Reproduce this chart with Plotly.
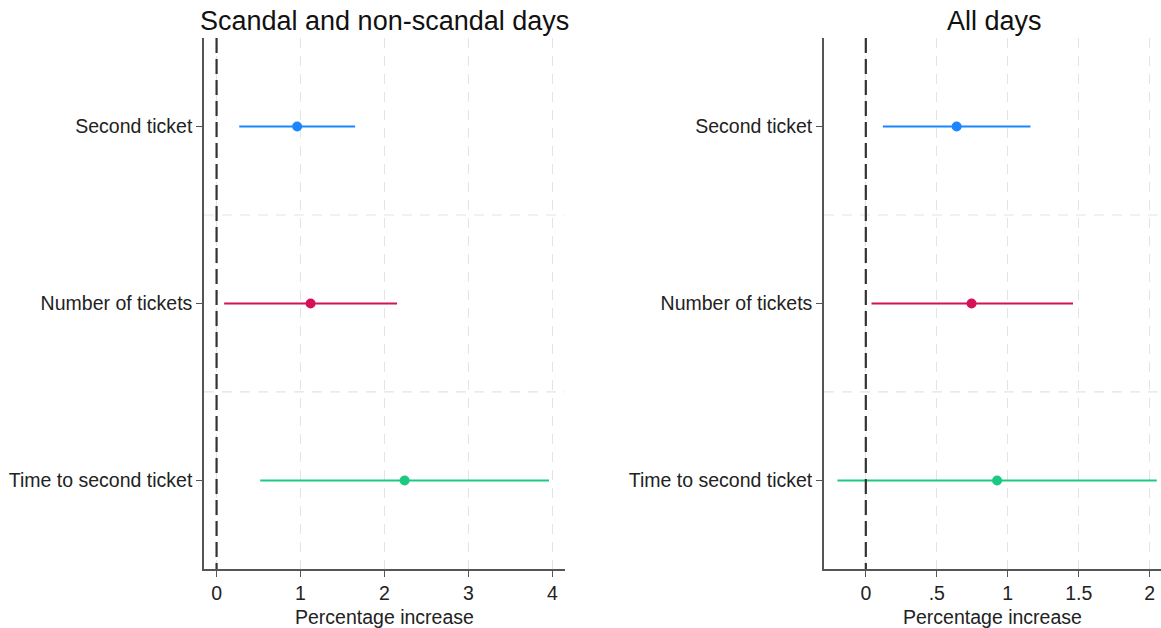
import plotly.graph_objects as go

# Outcomes and estimates (percentage increase with 95% CI)
outcomes = ["Second ticket", "Number of tickets", "Time to second ticket"]
colors = ["#1A85FF", "#D41159", "#1BC982"]

scandal_est = [0.96, 1.12, 2.24]
scandal_lo = [0.27, 0.09, 0.52]
scandal_hi = [1.65, 2.15, 3.96]

all_est = [0.64, 0.745, 0.925]
all_lo = [0.12, 0.04, -0.20]
all_hi = [1.16, 1.46, 2.05]

left_ticks = [0, 1, 2, 3, 4]
left_ticklabels = ["0", "1", "2", "3", "4"]
right_ticks = [0, 0.5, 1, 1.5, 2]
right_ticklabels = ["0", ".5", "1", "1.5", "2"]

pos = [1, 2, 3]

fig = go.Figure()

FONT = "Liberation Sans, Arial, sans-serif"
TXT = 19.5
LEFT_DOM = [0.1757, 0.4866]
RIGHT_DOM = [0.7097, 1.0]


def add_panel(est, lo, hi, xa, ya):
    for i in range(len(outcomes)):
        fig.add_trace(go.Scatter(
            x=[lo[i], hi[i]], y=[pos[i], pos[i]], mode="lines",
            line=dict(color=colors[i], width=2), xaxis=xa, yaxis=ya,
            showlegend=False, hoverinfo="skip", cliponaxis=True))
        fig.add_trace(go.Scatter(
            x=[est[i]], y=[pos[i]], mode="markers",
            marker=dict(color=colors[i], size=10), xaxis=xa, yaxis=ya,
            showlegend=False))


add_panel(scandal_est, scandal_lo, scandal_hi, "x", "y")
add_panel(all_est, all_lo, all_hi, "x2", "y2")

axis_common = dict(
    showline=True, linecolor="#555555", linewidth=1.5,
    ticks="outside", ticklen=6, tickcolor="#555555",
    tickfont=dict(family=FONT, size=TXT, color="#222222"),
    zeroline=False, mirror=False,
)

x_common = dict(
    axis_common, showgrid=True, gridcolor="#e4e4e4", griddash="10px,8px",
    gridwidth=1.2,
)

y_common = dict(
    axis_common, range=[3.5, 0.5], tickvals=pos, ticktext=outcomes,
    showgrid=False,
)

fig.update_layout(
    width=1161, height=628,
    margin=dict(l=0, r=0, t=0, b=0),
    paper_bgcolor="white", plot_bgcolor="white",
    xaxis=dict(x_common, domain=LEFT_DOM, range=[-0.15, 4.15],
               tickvals=left_ticks, ticktext=left_ticklabels, anchor="y"),
    yaxis=dict(y_common, domain=[0.094, 0.9395], anchor="x"),
    xaxis2=dict(x_common, domain=RIGHT_DOM, range=[-0.295, 2.08],
                tickvals=right_ticks, ticktext=right_ticklabels, anchor="y2"),
    yaxis2=dict(y_common, domain=[0.094, 0.9395], anchor="x2"),
)

# Horizontal separators between outcome rows
for xa, ya, x0, x1 in [("x", "y", -0.15, 4.15), ("x2", "y2", -0.295, 2.08)]:
    for yv in [1.5, 2.5]:
        fig.add_shape(type="line", xref=xa, yref=ya, x0=x0, x1=x1, y0=yv, y1=yv,
                      line=dict(color="#e4e4e4", width=1.2, dash="10px,8px"),
                      layer="below")
    # Reference line at zero
    fig.add_shape(type="line", xref=xa, yref=ya, x0=0, x1=0, y0=0.5, y1=3.5,
                  line=dict(color="#333333", width=2.2, dash="15px,6px"))

# Panel titles and x-axis titles
for title, dom, dx in [("Scandal and non-scandal days", LEFT_DOM, 0.0),
                       ("All days", RIGHT_DOM, 0.002)]:
    cx = (dom[0] + dom[1]) / 2
    fig.add_annotation(text=title, xref="paper", yref="paper",
                       x=cx + dx, y=1 - 21 / 628, xanchor="center",
                       yanchor="middle", showarrow=False,
                       font=dict(family=FONT, size=27, color="#111111"))
    fig.add_annotation(text="Percentage increase", xref="paper", yref="paper",
                       x=cx, y=1 - 617 / 628, xanchor="center",
                       yanchor="middle", showarrow=False,
                       font=dict(family=FONT, size=TXT, color="#222222"))

fig.write_html("out.html")
